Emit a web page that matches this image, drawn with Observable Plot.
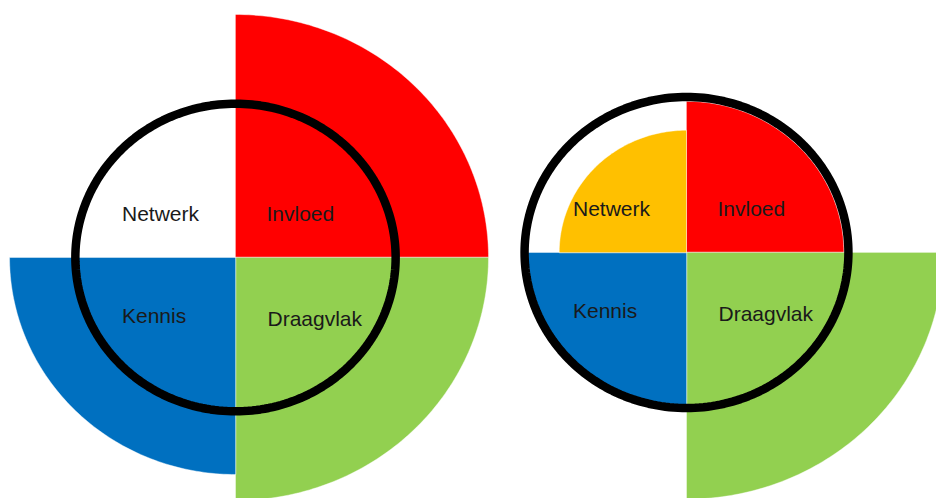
<!DOCTYPE html>
<html>
<head>
<meta charset="utf-8">
<script src="https://cdn.jsdelivr.net/npm/d3@7"></script>
<script src="https://cdn.jsdelivr.net/npm/@observablehq/plot@0.6"></script>
<style>
  html, body { margin: 0; padding: 0; background: #fff; overflow: hidden; }
  #chart svg { display: block; }
</style>
</head>
<body>
<div id="chart"></div>
<script>
// ---- data ----
const categories = ["Invloed", "Draagvlak", "Kennis", "Netwerk"];
const colors = ["#FF0000", "#92D050", "#0070C0", "#FFC000"];
const leftScores = [10, 10, 8.93, 0];       // left diagram
const rightScores = [6.22, 10.15, 6.27, 5.03]; // right diagram
const ringScores = [6.33, 6.4];             // reference circle per diagram

// ---- layout (not data) ----
const W = 936, H = 498;
const kx = 25.3, ky = 24.3;                 // px per unit, horizontal / vertical
const centers = [[235 / kx, (H - 257) / ky], [686 / kx, (H - 252) / ky]];
const quadrantAngles = {
  Invloed: [0, Math.PI / 2],
  Draagvlak: [-Math.PI / 2, 0],
  Kennis: [Math.PI, 1.5 * Math.PI],
  Netwerk: [Math.PI / 2, Math.PI]
};
const labelOffset = {
  Invloed: [31 / kx, 43.5 / ky],
  Draagvlak: [32 / kx, -61.5 / ky],
  Kennis: [-113.5 / kx, -59 / ky],
  Netwerk: [-113.5 / kx, 43.5 / ky]
};

const charts = [leftScores, rightScores];
const wedgePts = [];
const labels = [];
charts.forEach((scores, c) => {
  const [cx, cy] = centers[c];
  categories.forEach((cat, i) => {
    const r = scores[i];
    const [a0, a1] = quadrantAngles[cat];
    const key = c + "-" + cat;
    if (r > 0) {
      wedgePts.push({key, x: cx, y: cy, color: colors[i]});
      const n = 90;
      for (let s = 0; s <= n; s++) {
        const t = a0 + (a1 - a0) * s / n;
        wedgePts.push({key, x: cx + r * Math.cos(t), y: cy + r * Math.sin(t), color: colors[i]});
      }
    }
    const [ox, oy] = labelOffset[cat];
    labels.push({x: cx + ox, y: cy + oy, text: cat});
  });
});
const ringPts = [];
ringScores.forEach((r, c) => {
  const [cx, cy] = centers[c];
  const n = 240;
  for (let s = 0; s < n; s++) {
    const t = 2 * Math.PI * s / n;
    ringPts.push({key: c, x: cx + r * Math.cos(t), y: cy + r * Math.sin(t)});
  }
});

const plot = Plot.plot({
  width: W,
  height: H,
  margin: 0,
  x: {domain: [0, W / kx], range: [0, W], axis: null},
  y: {domain: [0, H / ky], range: [H, 0], axis: null},
  style: {background: "#fff", overflow: "hidden"},
  marks: [
    Plot.line(wedgePts, {
      x: "x", y: "y", z: "key", fill: "color", stroke: "#ffffff",
      strokeWidth: 0.7, strokeOpacity: 0.6, curve: "linear-closed"
    }),
    Plot.line(ringPts, {
      x: "x", y: "y", z: "key", stroke: "#000", strokeWidth: 8.5,
      fill: "none", curve: "linear-closed"
    }),
    Plot.text(labels, {
      x: "x", y: "y", text: "text", textAnchor: "start",
      fontSize: 21, fill: "#1a1a1a",
      fontFamily: "Liberation Sans, Arial, sans-serif"
    })
  ]
});
document.getElementById("chart").appendChild(plot);
</script>
</body>
</html>
